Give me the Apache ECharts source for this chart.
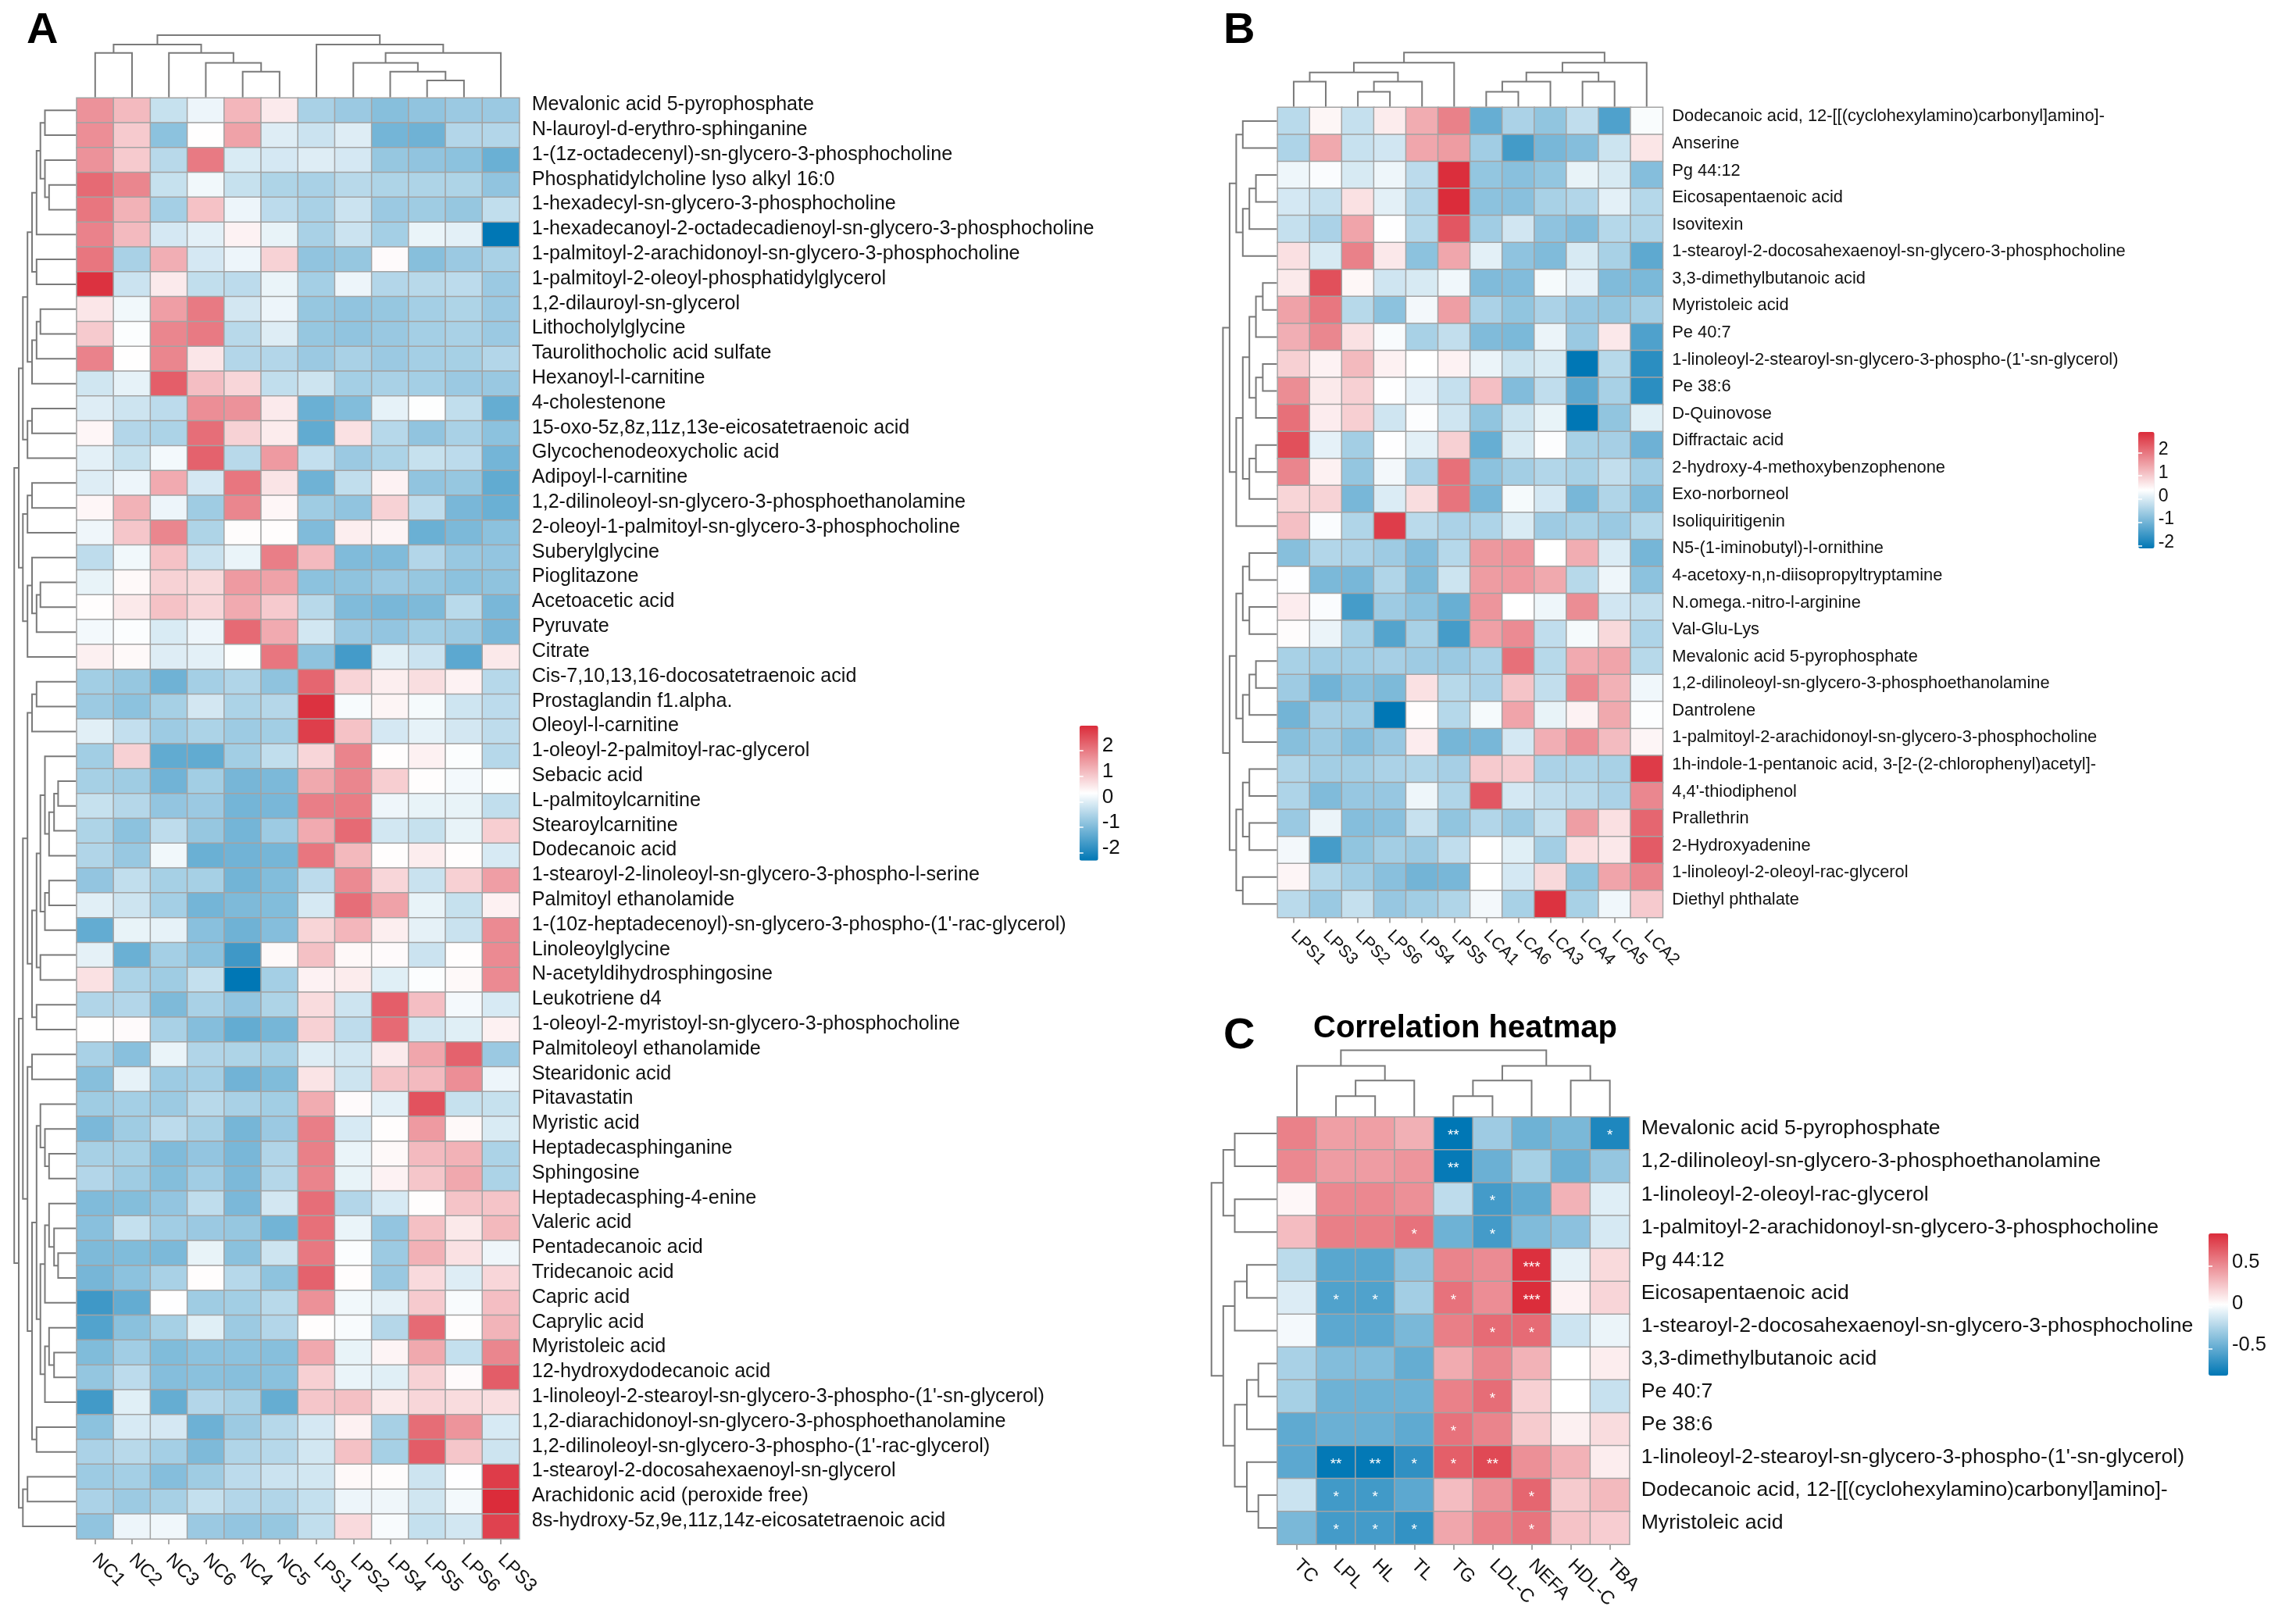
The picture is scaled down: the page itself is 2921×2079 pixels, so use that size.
<!DOCTYPE html>
<html>
<head>
<meta charset="utf-8">
<style>html,body{margin:0;padding:0;background:#fff}#c{width:2921px;height:2079px}</style>
<script src="https://cdn.jsdelivr.net/npm/echarts@6/dist/echarts.min.js"></script>
</head>
<body>
<div id="c"></div>
<script>
const L = 0;
const colsA = ["NC1","NC2","NC3","NC6","NC4","NC5","LPS1","LPS2","LPS4","LPS5","LPS6","LPS3"];
const rowsA = ["Mevalonic acid 5-pyrophosphate","N-lauroyl-d-erythro-sphinganine","1-(1z-octadecenyl)-sn-glycero-3-phosphocholine","Phosphatidylcholine lyso alkyl 16:0","1-hexadecyl-sn-glycero-3-phosphocholine","1-hexadecanoyl-2-octadecadienoyl-sn-glycero-3-phosphocholine","1-palmitoyl-2-arachidonoyl-sn-glycero-3-phosphocholine","1-palmitoyl-2-oleoyl-phosphatidylglycerol","1,2-dilauroyl-sn-glycerol","Lithocholylglycine","Taurolithocholic acid sulfate","Hexanoyl-l-carnitine","4-cholestenone","15-oxo-5z,8z,11z,13e-eicosatetraenoic acid","Glycochenodeoxycholic acid","Adipoyl-l-carnitine","1,2-dilinoleoyl-sn-glycero-3-phosphoethanolamine","2-oleoyl-1-palmitoyl-sn-glycero-3-phosphocholine","Suberylglycine","Pioglitazone","Acetoacetic acid","Pyruvate","Citrate","Cis-7,10,13,16-docosatetraenoic acid","Prostaglandin f1.alpha.","Oleoyl-l-carnitine","1-oleoyl-2-palmitoyl-rac-glycerol","Sebacic acid","L-palmitoylcarnitine","Stearoylcarnitine","Dodecanoic acid","1-stearoyl-2-linoleoyl-sn-glycero-3-phospho-l-serine","Palmitoyl ethanolamide","1-(10z-heptadecenoyl)-sn-glycero-3-phospho-(1'-rac-glycerol)","Linoleoylglycine","N-acetyldihydrosphingosine","Leukotriene d4","1-oleoyl-2-myristoyl-sn-glycero-3-phosphocholine","Palmitoleoyl ethanolamide","Stearidonic acid","Pitavastatin","Myristic acid","Heptadecasphinganine","Sphingosine","Heptadecasphing-4-enine","Valeric acid","Pentadecanoic acid","Tridecanoic acid","Capric acid","Caprylic acid","Myristoleic acid","12-hydroxydodecanoic acid","1-linoleoyl-2-stearoyl-sn-glycero-3-phospho-(1'-sn-glycerol)","1,2-diarachidonoyl-sn-glycero-3-phosphoethanolamine","1,2-dilinoleoyl-sn-glycero-3-phospho-(1'-rac-glycerol)","1-stearoyl-2-docosahexaenoyl-sn-glycerol","Arachidonic acid (peroxide free)","8s-hydroxy-5z,9e,11z,14z-eicosatetraenoic acid"];
const valuesA = [
[1.7,1.2,-.25,.15,1.25,.6,-.55,-.7,-.9,-.8,-.7,-.7],
[1.75,1,-.85,.35,1.5,0,-.2,0,-1.1,-1.15,-.45,-.45],
[1.7,1,-.4,2,-.05,-.1,0,-.1,-.75,-.8,-.85,-1.2],
[2.2,1.85,-.25,.2,-.25,-.5,-.55,-.4,-.5,-.5,-.5,-.8],
[2.05,1.3,-.6,1.1,.15,-.35,-.55,-.2,-.7,-.65,-.75,-.3],
[1.9,1.2,-.1,.05,.5,.1,-.55,-.2,-.6,.12,.05,-2.3],
[2.05,-.55,1.35,-.1,.15,.9,-.8,-.75,.4,-.9,-.7,-.55],
[2.9,-.2,.6,-.3,-.35,.12,-.6,.15,-.45,-.4,-.35,-.7],
[.65,.2,1.55,2,-.12,.15,-.75,-.8,-.75,-.6,-.5,-.7],
[1,.3,1.85,2,-.4,0,-.75,-.8,-.72,-.6,-.55,-.7],
[1.9,.35,1.85,.65,-.45,-.45,-.7,-.55,-.7,-.6,-.58,-.45],
[-.15,.08,2.35,1.15,.85,-.3,-.18,-.6,-.55,-.6,-.7,-.72],
[0,-.18,-.35,1.75,1.7,.6,-1.2,-.95,.08,.32,-.3,-1.25],
[.45,-.45,-.52,2.15,.9,.58,-1.3,.72,-.42,-.8,-.55,-.85],
[.05,-.25,.22,2.3,-.4,1.6,-.28,-.7,-.52,-.25,-.35,-1.1],
[0,.15,1.4,-.1,2.05,.68,-1.15,-.3,.5,-.8,-.75,-1.3],
[.45,1.3,.15,-.65,1.85,.45,-.65,-.8,.9,-.33,-1.05,-1.2],
[.17,1.05,1.85,-.5,.38,.37,-.98,.55,.48,-1.2,-1.02,-.85],
[-.33,.2,1.1,-.22,.12,1.95,1.2,-.98,-.98,-.45,-.73,-.78],
[.1,.42,.9,.82,1.6,1.5,-.85,-.82,-.7,-.75,-.85,-.82],
[.37,.62,1.1,.85,1.4,1,-.4,-.98,-1.05,-1,-.38,-1.05],
[.22,.3,-.05,.15,2.2,1.4,-.13,-.7,-.78,-.62,-.68,-1.05],
[.53,.42,0,.05,.32,2.05,-.82,-1.6,.02,-.2,-1.35,.62],
[-.62,-.75,-1.15,-.6,-.48,-.82,2.25,.88,.55,.75,.5,-.42],
[-.68,-.85,-.58,-.12,-.52,-.43,2.9,.26,.47,.24,-.17,-.35],
[.03,-.28,-.67,-.52,-.67,-.62,2.75,1.1,-.1,.08,-.12,-.33],
[-.62,.92,-1.3,-1.3,-.62,-.3,.85,1.88,.37,.52,.3,-.42],
[-.58,-.65,-1.13,-.62,-1.07,-1.02,1.42,1.85,.95,.37,.22,.32],
[-.25,-.43,-.78,-.7,-1.1,-1.05,1.95,1.97,.17,.1,.1,-.3],
[-.5,-.85,-.33,-.75,-1.1,-.67,1.4,2.2,-.13,-.25,.1,.95],
[-.47,-.73,.2,-1.2,-1.13,-1.08,2.05,1.22,.37,.57,.37,-.07],
[-.78,-.3,-.58,-.58,-1.12,-.95,-.35,1.8,.85,-.22,.93,1.55],
[.03,-.18,-.6,-1.1,-1,-.95,-.08,2.15,1.5,.1,-.25,.52],
[-1.28,.1,.08,-.88,-1.15,-.92,.87,1.25,.55,.07,-.22,1.8],
[.07,-1.2,-.6,-.85,-1.65,.42,1.12,.43,.4,-.2,.37,1.8],
[.72,-.52,-.65,-.27,-2.3,-.6,.5,.58,.02,.3,.42,1.8],
[-.47,-.45,-1,-.55,-.78,-.5,.78,-.18,2.35,1.15,.23,-.07],
[.35,.4,-.55,-.92,-1.28,-1.08,.92,-.33,2.2,-.13,.02,.52],
[-.55,-.88,.12,-.47,-.5,-.58,0,-.13,.6,1.45,2.3,-.7],
[-.9,.08,-.67,-.6,-1.13,-.97,.68,-.18,1.08,1.2,1.75,.15],
[-.65,-.6,-.68,-.4,-.55,-.62,1.38,.4,.05,2.5,-.25,-.25],
[-1.03,-.65,-.35,-.57,-1.08,-.7,1.95,-.07,.37,1.6,.42,-.05],
[-.57,-.58,-.98,-.78,-1.05,-.47,1.93,.12,.42,1.2,1.3,-.52],
[-.45,-.65,-.93,-.63,-1.02,-.43,1.88,.1,.5,1.05,1.43,-.52],
[-.98,-.93,-.78,-.32,-1.03,-.12,2.15,-.45,-.07,.37,1.08,1.08],
[-.88,-.27,-.63,-.7,-.75,-1.12,2.13,.12,-.78,1.13,.62,1.22],
[-1,-.97,-1.02,.1,-.87,-.18,2.03,.3,-.68,1.32,.72,.17],
[-1.07,-.85,-.55,.37,-.42,-.83,2.3,.37,-.72,.8,0,.85],
[-1.65,-1.28,.33,-.65,-.62,-.4,1.72,.2,.07,1,.27,1.15],
[-1.45,-.87,-.58,.02,-.68,-.45,.37,.27,-.43,2.2,.37,1.28],
[-.97,-.63,-.97,-.85,-.85,-.9,1.43,.1,.48,1.42,-.27,1.85],
[-.77,-.35,-.92,-.87,-.9,-.87,.93,.12,.02,.9,.4,2.37],
[-1.62,.02,-1.25,-.45,-.57,-1.25,1.05,1.13,.62,.85,.78,.75],
[-.85,-.07,-.1,-1.17,-.68,-.42,-.1,.52,-.57,2.17,1.68,-.07],
[-.53,-.4,-.6,-1,-.48,-.42,-.13,1.12,-.58,2.38,1.05,-.18],
[-.67,-.6,-.92,-.65,-.35,-.2,-.13,.42,.38,-.18,.33,2.78],
[-.53,-.68,-.57,-.27,-.45,-.47,-.27,.15,.17,-.15,.22,2.98],
[-.8,.15,.18,-.7,-.78,-.75,-.3,.8,.27,-.27,-.13,2.7]
];
const treeColsA = [79.5,[67.4,[56.7,L,L],[56.7,L,[44,L,[32.6,L,L]]]],[67.4,L,[56.7,[44,L,[32.6,L,[21.4,L,L]]],L]]];
const treeRowsA = [79,
 [73.2,
  [67.9,
   [62,[56.2,[50.4,[45.5,[39.7,L,L],[39.7,L,[34.4,L,L]]],L],[50.4,L,L]],[56.2,[50.4,[45.5,L,L],L],L]],
   [62,[56.2,L,L],L]],
  [67.9,[62,[56.2,L,L],L],[62,[56.2,L,[50.4,[45.5,L,L],L]],L]]],
 [73.2,
  [67.9,
   [62,[56.2,[50.4,L,L],L],
    [56.2,[50.4,[45.5,[39.7,L,[34.4,[28,[22.8,L,L],L],L]],[39.7,[34.4,L,L],L]],[45.5,L,L]],[50.4,L,L]]],
   [62,[56.2,L,L],
    [56.2,[50.4,[45.5,L,[39.7,L,[34.4,L,L]]],[45.5,[39.7,[34.4,L,[28,L,[22.8,L,L]]],L],[39.7,[34.4,L,[28,L,L]],L]]],[50.4,L,L]]]],
  [67.9,[62,L,L],L]]];

const colsB = ["LPS1","LPS3","LPS2","LPS6","LPS4","LPS5","LCA1","LCA6","LCA3","LCA4","LCA5","LCA2"];
const rowsB = ["Dodecanoic acid, 12-[[(cyclohexylamino)carbonyl]amino]-","Anserine","Pg 44:12","Eicosapentaenoic acid","Isovitexin","1-stearoyl-2-docosahexaenoyl-sn-glycero-3-phosphocholine","3,3-dimethylbutanoic acid","Myristoleic acid","Pe 40:7","1-linoleoyl-2-stearoyl-sn-glycero-3-phospho-(1'-sn-glycerol)","Pe 38:6","D-Quinovose","Diffractaic acid","2-hydroxy-4-methoxybenzophenone","Exo-norborneol","Isoliquiritigenin","N5-(1-iminobutyl)-l-ornithine","4-acetoxy-n,n-diisopropyltryptamine","N.omega.-nitro-l-arginine","Val-Glu-Lys","Mevalonic acid 5-pyrophosphate","1,2-dilinoleoyl-sn-glycero-3-phosphoethanolamine","Dantrolene","1-palmitoyl-2-arachidonoyl-sn-glycero-3-phosphocholine","1h-indole-1-pentanoic acid, 3-[2-(2-chlorophenyl)acetyl]-","4,4'-thiodiphenol","Prallethrin","2-Hydroxyadenine","1-linoleoyl-2-oleoyl-rac-glycerol","Diethyl phthalate"];
const valuesB = [
[-.29,.5,-.18,.62,1.37,1.88,-1.1,-.43,-.68,-.23,-1.33,.33],
[-.4,1.41,-.16,-.06,1.44,1.56,-.53,-1.45,-.93,-.8,-.11,.69],
[.22,.34,0,.22,-.26,2.86,-.66,-.76,-.66,.17,0,-.8],
[-.03,-.18,.74,.12,-.36,2.88,-.73,-.76,-.46,-.36,.12,-.33],
[-.18,-.43,1.46,.38,-.33,2.38,-.53,-.06,-.7,-.83,-.33,-.38],
[.76,0,1.88,.66,-.73,1.44,.12,-.7,-.85,0,-.46,-1.18],
[.64,2.46,.49,-.08,0,.24,-.85,-.83,.29,.14,-.85,-.9],
[1.49,2,-.31,-.73,.27,1.54,-.43,-.68,-.43,-.63,-.65,-.51],
[1.34,1.81,.74,.32,-.46,-.21,-.85,-.9,.19,-.6,.66,-1.33],
[.94,.54,1.21,.56,.39,.54,.19,-.11,0,-2.1,-.31,-1.68],
[1.74,.64,.94,.38,.14,-.18,1.14,-.83,-.23,-1.18,-.46,-1.68],
[2.08,.61,.96,-.08,.36,-.08,-.68,-.11,.17,-2.1,-.68,.09],
[2.46,.14,-.51,.38,.12,.94,-1.1,0,.36,-.46,-.48,-1.03],
[1.83,.56,-.65,.27,-.43,2.08,-.73,-.51,-.36,-.46,-.21,-.53],
[.89,.91,-.93,.04,.79,2.03,-.93,.29,-.03,-.93,-.38,-.85],
[1.14,.34,-.38,2.68,-.28,-.43,-.4,.02,-.56,-.46,-.6,-.33],
[-.78,-.36,-.43,-.56,-.83,-.33,1.61,1.64,.39,1.36,.04,-.95],
[.38,-.9,-.93,-.38,-.88,-.11,1.56,1.59,1.41,-.31,.22,-.73],
[.61,.34,-1.43,-.56,-.73,-1.08,1.64,.39,.22,1.74,-.06,-.21],
[.43,.19,-.46,-1.28,-.46,-1.43,1.51,1.76,-.23,.29,.84,-.4],
[-.46,-.53,-.53,-.48,-.56,-.6,-.43,2.08,-.31,1.39,1.46,-.31],
[-.56,-1,-.76,-.88,.74,-.31,-.43,1.09,-.21,1.79,1.31,.24],
[-.98,-.48,-.53,-2.1,.41,-.33,.29,1.46,.17,.54,1.41,.36],
[-.78,-.58,-.8,-.63,.61,-.95,-.93,-.03,1.34,1.71,1.19,.51],
[-.38,-.51,-.51,-.43,-.38,-.48,1.01,.99,-.43,-.4,-.46,2.7],
[-.4,-.85,-.63,-.63,.22,-.38,2.38,-.03,-.23,-.28,-.43,1.81],
[-.6,.19,-.8,-.76,-.16,-.68,-.36,-.58,-.18,1.54,.76,2.2],
[.27,-1.43,-.68,-.51,-.58,-.23,.39,.09,-.51,.76,.66,2.33],
[.51,-.33,-.53,-.76,-.98,-.93,.39,-.03,.84,-.68,1.46,1.83],
[-.28,-.6,-.18,-.63,-.53,-.38,.27,-.46,2.8,-.46,.24,1.01]
];
const treeColsB = [69.4,[56.4,[43.8,[32,L,L],[32,[19,L,L],L]],L],[56.4,[43.8,[32,[19,L,L],L],[32,L,L]],L]];
const treeRowsB = [69,
 [60.5,[52,[43.6,L,L],[43.6,[35.2,[26.8,L,L],L],L]],
       [52,[43.6,[35.2,[26.8,[18,L,L],L],[26.8,[18,L,L],L]],[35.2,[26.8,L,L],L]],L]],
 [60.5,[52,[43.6,[35.2,L,L],[35.2,L,L]],[43.6,[35.2,[26.8,L,L],L],L]],
       [52,[43.6,[35.2,L,L],[35.2,L,L]],[43.6,L,L]]]];

const colsC = ["TC","LPL","HL","TL","TG","LDL-C","NEFA","HDL-C","TBA"];
const rowsC = ["Mevalonic acid 5-pyrophosphate","1,2-dilinoleoyl-sn-glycero-3-phosphoethanolamine","1-linoleoyl-2-oleoyl-rac-glycerol","1-palmitoyl-2-arachidonoyl-sn-glycero-3-phosphocholine","Pg 44:12","Eicosapentaenoic acid","1-stearoyl-2-docosahexaenoyl-sn-glycero-3-phosphocholine","3,3-dimethylbutanoic acid","Pe 40:7","Pe 38:6","1-linoleoyl-2-stearoyl-sn-glycero-3-phospho-(1'-sn-glycerol)","Dodecanoic acid, 12-[[(cyclohexylamino)carbonyl]amino]-","Myristoleic acid"];
const valuesC = [
[.55,.43,.43,.36,-.82,-.29,-.45,-.41,-.72],
[.52,.44,.44,.47,-.8,-.46,-.26,-.46,-.32],
[.07,.52,.52,.49,-.18,-.59,-.49,.35,-.07],
[.31,.56,.56,.61,-.45,-.59,-.39,-.35,-.1],
[-.19,-.52,-.52,-.34,.54,.51,.88,-.05,.19],
[-.08,-.55,-.55,-.27,.61,.5,.89,.09,.21],
[0,-.51,-.51,-.41,.56,.64,.64,-.13,-.03],
[-.25,-.38,-.38,-.48,.38,.53,.35,.04,.11],
[-.26,-.45,-.45,-.45,.55,.63,.23,.04,-.15],
[-.5,-.46,-.46,-.5,.61,.54,.25,.1,.18],
[-.51,-.81,-.81,-.66,.69,.78,.49,.35,.11],
[-.14,-.6,-.6,-.51,.31,.49,.66,.25,.32],
[-.41,-.59,-.59,-.65,.4,.55,.6,.28,.24]
];
const starsC = [
["","","","","**","","","","*"],
["","","","","**","","","",""],
["","","","","","*","","",""],
["","","","*","","*","","",""],
["","","","","","","***","",""],
["","*","*","","*","","***","",""],
["","","","","","*","*","",""],
["","","","","","","","",""],
["","","","","","*","","",""],
["","","","","*","","","",""],
["","**","**","*","*","**","","",""],
["","*","*","","","","*","",""],
["","*","*","*","","","*","",""]
];
const treeColsC = [84.6,[64.5,L,[45.8,[25.7,L,L],L]],[64.5,[45.8,[25.7,L,L],L],[45.8,L,L]]];
const treeRowsC = [83.3,[68.2,[53.5,L,L],[53.5,L,L]],[68.2,[53.5,[38,L,L],L],[53.5,[38,[23.3,L,L],L],[38,L,[23.3,L,L]]]]];

const ticksA = [2,1,0,-1,-2];
const ticksB = [2,1,0,-1,-2];
const ticksC = [0.5,0,-0.5];
const scaleA = [-2.3,2.98];
const scaleB = [-2.1,2.88];
const scaleC = [-0.82,0.896];

const BLUE='#0077B5', RED='#DB2C3A', FONT='"Liberation Sans", Arial, sans-serif';
const panels = [
 {cols:colsA,rows:rowsA,vals:valuesA,tc:treeColsA,tr:treeRowsA,scale:scaleA,ticks:ticksA,
  l:98.2,r:664.7,t:125.4,b:1970,fs:25.1,cfs:24,cm:23,lm:16,lh:14,
  bar:{l:1381.7,r:1405.7,t:929,b:1101.7,fs:26,lh:12}},
 {cols:colsB,rows:rowsB,vals:valuesB,tc:treeColsB,tr:treeRowsB,scale:scaleB,ticks:ticksB,
  l:1635.4,r:2128.3,t:137.6,b:1174.6,fs:21.85,cfs:21.5,cm:20,lm:12,lh:11,
  bar:{l:2737,r:2757.7,t:553,b:702,fs:23,lh:8}},
 {cols:colsC,rows:rowsC,vals:valuesC,tc:treeColsC,tr:treeRowsC,scale:scaleC,ticks:ticksC,stars:starsC,
  l:1635,r:2085.7,t:1430,b:1977,fs:26.6,cfs:24,cm:23,lm:15,lh:12,
  bar:{l:2827,r:2852,t:1579,b:1761,fs:25.5,lh:10}}
];

function segments(tree, horizontal){
  const segs=[]; let next=0;
  (function walk(n){
    if(n===L){ return {p:(next++)+0.5,h:0}; }
    const a=walk(n[1]), b=walk(n[2]), h=n[0];
    segs.push(horizontal ? [a.h,a.p,h,a.p,h,b.p,b.h,b.p] : [a.p,a.h,a.p,h,b.p,h,b.p,b.h]);
    return {p:(a.p+b.p)/2,h};
  })(tree);
  return segs;
}
function renderU(params, api){
  const pts=[0,2,4,6].map(i=>api.coord([api.value(i),api.value(i+1)]));
  return {type:'polyline',shape:{points:pts},style:{stroke:'#7A7A7A',fill:'none',lineWidth:2}};
}
const grid=[],xAxis=[],yAxis=[],series=[],visualMap=[];
panels.forEach((p,i)=>{
  const w=p.r-p.l,h=p.b-p.t;
  // heatmap
  const gi=grid.length, yi=yAxis.length;
  grid.push({left:p.l,top:p.t,width:w,height:h});
  xAxis.push({type:'category',gridIndex:gi,data:p.cols,axisLine:{show:false},splitLine:{show:false},splitArea:{show:false},
    axisTick:{show:true,alignWithLabel:true,length:7,lineStyle:{color:'#8A8A8A',width:1.5}},
    axisLabel:{interval:0,rotate:-45,margin:p.cm,padding:[7,0,0,0],fontSize:p.cfs,color:'#111',fontFamily:FONT}});
  yAxis.push({type:'category',gridIndex:gi,data:p.rows,inverse:true,position:'right',axisLine:{show:false},axisTick:{show:false},splitLine:{show:false},splitArea:{show:false},
    axisLabel:{interval:0,margin:p.lm,verticalAlign:'bottom',lineHeight:p.lh,fontSize:p.fs,color:'#111',fontFamily:FONT}});
  const data=[];
  p.vals.forEach((row,y)=>row.forEach((v,x)=>data.push([x,y,v])));
  const si=series.length;
  series.push({type:'heatmap',xAxisIndex:gi,yAxisIndex:yi,data,progressive:0,
    itemStyle:{borderColor:'#A3A3A3',borderWidth:1.5},
    label:{show:!!p.stars,color:'#fff',fontSize:19,fontFamily:FONT,offset:[0,3],
      formatter:o=>p.stars?p.stars[o.value[1]][o.value[0]]:''},
    emphasis:{disabled:true}});
  visualMap.push({type:'continuous',seriesIndex:si,dimension:2,min:p.scale[0],max:p.scale[1],calculable:false,realtime:false,
    inRange:{color:[BLUE,'#FFFFFF',RED]},left:p.bar.l,top:p.bar.t,itemWidth:p.bar.r-p.bar.l,itemHeight:p.bar.b-p.bar.t,
    padding:0,text:null,showLabel:false,z:4,hoverLink:false});
  // column dendrogram
  const H=90, gc=grid.length, yc=yAxis.length;
  grid.push({left:p.l,top:p.t-H-1,width:w,height:H});
  xAxis.push({type:'value',gridIndex:gc,min:0,max:p.cols.length,show:false});
  yAxis.push({type:'value',gridIndex:gc,min:0,max:H,show:false});
  series.push({type:'custom',xAxisIndex:gc,yAxisIndex:yc,renderItem:renderU,clip:false,silent:true,data:segments(p.tc,false)});
  // row dendrogram
  const gr=grid.length, yr=yAxis.length;
  grid.push({left:p.l-H-1,top:p.t,width:H,height:h});
  xAxis.push({type:'value',gridIndex:gr,min:0,max:H,inverse:true,show:false});
  yAxis.push({type:'value',gridIndex:gr,min:0,max:p.rows.length,inverse:true,show:false});
  series.push({type:'custom',xAxisIndex:gr,yAxisIndex:yr,renderItem:renderU,clip:false,silent:true,data:segments(p.tr,true)});
  // colour bar scale
  const gb=grid.length, b=p.bar, yb=yAxis.length;
  grid.push({left:b.l,top:b.t,width:b.r-b.l,height:b.b-b.t,z:10});
  xAxis.push({type:'value',gridIndex:gb,show:false,min:0,max:1});
  const tickStyle={show:true,inside:true,length:5,lineStyle:{color:'#fff',width:1.5},customValues:p.ticks};
  yAxis.push({type:'value',gridIndex:gb,position:'right',min:p.scale[0],max:p.scale[1],z:10,axisLine:{show:false},splitLine:{show:false},
    axisTick:tickStyle,
    axisLabel:{show:true,margin:5,fontSize:b.fs,color:'#111',fontFamily:FONT,customValues:p.ticks,verticalAlign:'bottom',lineHeight:b.lh,showMinLabel:true,showMaxLabel:true,formatter:v=>String(v)}});
  yAxis.push({type:'value',gridIndex:gb,position:'left',min:p.scale[0],max:p.scale[1],z:10,axisLine:{show:false},splitLine:{show:false},
    axisTick:tickStyle,axisLabel:{show:false}});
  series.push({type:'custom',xAxisIndex:gb,yAxisIndex:yb,renderItem:()=>null,data:[],silent:true});
  series.push({type:'custom',xAxisIndex:gb,yAxisIndex:yb+1,renderItem:()=>null,data:[],silent:true});
});
const title=[
 {text:'A',left:34,top:12,textStyle:{fontSize:56,fontWeight:'bold',color:'#000',fontFamily:FONT},padding:0},
 {text:'B',left:1566,top:12,textStyle:{fontSize:56,fontWeight:'bold',color:'#000',fontFamily:FONT},padding:0},
 {text:'C',left:1566,top:1299,textStyle:{fontSize:56,fontWeight:'bold',color:'#000',fontFamily:FONT},padding:0},
 {text:'Correlation heatmap',left:1681,top:1297,textStyle:{fontSize:40,fontWeight:'bold',color:'#000',fontFamily:FONT},padding:0}
];
const chart=echarts.init(document.getElementById('c'),null,{renderer:'canvas'});
chart.setOption({animation:false,backgroundColor:'#fff',tooltip:{show:false},title,grid,xAxis,yAxis,visualMap,series});
</script>
</body>
</html>
